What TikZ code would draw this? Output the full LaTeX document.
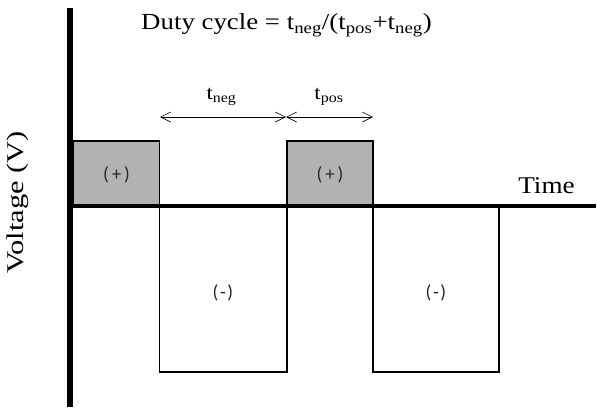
\documentclass[tikz,border=0pt]{standalone}
\usepackage{fontspec}
\setmainfont{Liberation Serif}
\newfontfamily\signfont{Carlito}
\usetikzlibrary{arrows.meta}
\definecolor{posgray}{HTML}{B2B2B2}
\tikzset{
  pulse/.style={draw=black, line width=1.4pt},
  posbox/.style={pulse, fill=posgray},
  axisline/.style={line cap=butt},
  span/.style={line width=0.6pt, {Straight Barb[length=10pt,width=10pt]}-{Straight Barb[length=10pt,width=10pt]}},
  sign/.style={font=\signfont\fontsize{19}{21}\selectfont, text=black!85},
  durlabel/.style={font=\fontsize{20}{22}\selectfont},
  label/.style={font=\fontsize{24}{28}\selectfont}
}
\newcommand{\wide}[2]{\scalebox{#1}[1]{#2}}
\begin{document}
\begin{tikzpicture}[x=1pt, y=-1pt]
  \useasboundingbox (0,0) rectangle (597,407);

  % edges of the pulse train
  \coordinate (o)  at (73,206);
  \coordinate (e1) at (159.5,206);
  \coordinate (e2) at (287,206);
  \coordinate (e3) at (373,206);
  \coordinate (e4) at (499,206);

  % positive pulses
  \draw[posbox] (73,141) rectangle (e1);
  \draw[posbox] (287,141) rectangle (e3);

  % negative pulses
  \draw[pulse] (e1) rectangle (287,372);
  \draw[pulse] (e3) rectangle (499,372);

  % axes
  \draw[axisline, line width=3.2pt] (67,206) -- (596,206);
  \draw[axisline, line width=6pt] (70,8) -- (70,407);

  % sign labels
  \node[sign] (p1) at (116.5,175) {(\kern2.8pt+\kern2.8pt)};
  \node[sign] (p2) at (330,175) {(\kern2.8pt+\kern2.8pt)};
  \node[sign] (n1) at (223,293) {(\kern1.6pt-\kern1.6pt)};
  \node[sign] (n2) at (436,293) {(\kern1.6pt-\kern1.6pt)};

  % duration markers
  \coordinate (a0) at (160,117);
  \coordinate (a1) at (286,117);
  \coordinate (a2) at (373,117);
  \draw[span] (a0) -- (a1);
  \draw[span] (a1) -- (a2);
  \node[durlabel] (tn) at (221.5,97) {\wide{1.14}{t\textsubscript{neg}}};
  \node[durlabel] (tp) at (329,97) {\wide{1.14}{t\textsubscript{pos}}};

  % titles
  \node[label, font=\fontsize{23}{26}\selectfont] (title) at (286.5,25)
    {\wide{1.167}{Duty cycle = t\textsubscript{neg}/(t\textsubscript{pos}+t\textsubscript{neg})}};
  \node[label] (time) at (546.5,186) {\wide{1.13}{Time}};
  \node[label, rotate=90] (volt) at (18,202.5) {\wide{1.27}{Voltage (V)}};
\end{tikzpicture}
\end{document}
